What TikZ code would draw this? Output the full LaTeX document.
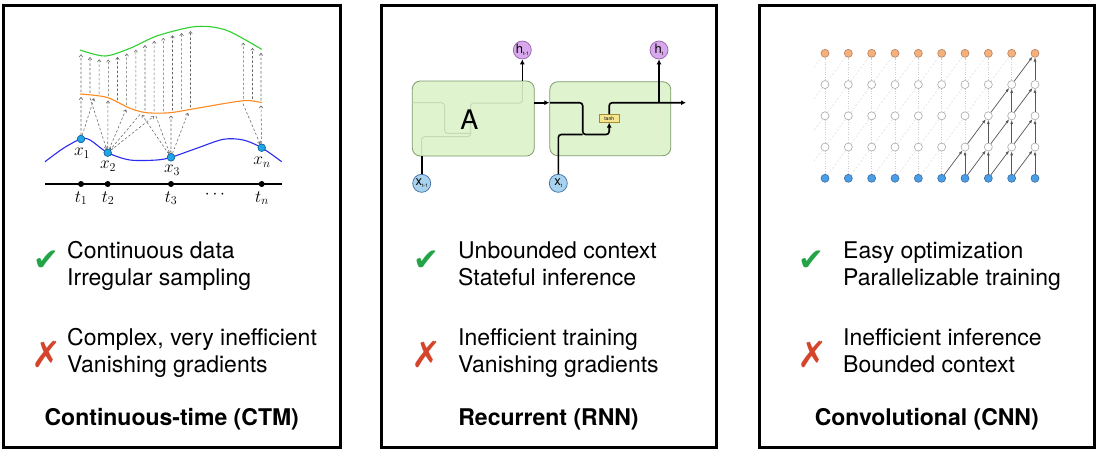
\documentclass[tikz,border=0pt]{standalone}
\usepackage[no-math]{fontspec}
\setmainfont{TeX Gyre Heros}
\newfontfamily\symfont{DejaVu Sans}
\usetikzlibrary{arrows.meta,intersections,calc}
\definecolor{chk}{HTML}{22A447}
\definecolor{crs}{HTML}{D4452C}
\definecolor{bcurve}{HTML}{2B2BF0}
\definecolor{ocurve}{HTML}{FF8A1F}
\definecolor{gcurve}{HTML}{2FCF2F}
\definecolor{dotfill}{HTML}{1FA6E6}
\definecolor{dotdraw}{HTML}{155E9A}
\definecolor{cellfill}{HTML}{DFF3CE}
\definecolor{celldraw}{HTML}{7E9B6E}
\definecolor{ghost}{HTML}{C4D9B4}
\definecolor{xfill}{HTML}{A8D2EE}
\definecolor{xdraw}{HTML}{3B6DA0}
\definecolor{hfill}{HTML}{D8A8EC}
\definecolor{hdraw}{HTML}{9660AE}
\definecolor{tfill}{HTML}{F6E690}
\definecolor{tdraw}{HTML}{A38C35}
\definecolor{ofill}{HTML}{F7B07A}
\definecolor{odraw}{HTML}{B08264}
\definecolor{bfill}{HTML}{4A9EE8}
\definecolor{bdraw}{HTML}{3A6CA0}
\definecolor{mdraw}{HTML}{A8A8A8}
\begin{document}
\begin{tikzpicture}[x=1pt,y=-1pt,
  panel/.style={draw=black,line width=3pt},
  item/.style={anchor=base west,inner sep=0pt,font=\fontsize{23}{23}\selectfont},
  ttl/.style={anchor=base,inner sep=0pt,font=\fontsize{23}{23}\selectfont\bfseries},
  chkmark/.style={inner sep=0pt,text=chk,font=\symfont\fontsize{31}{31}\selectfont},
  crsmark/.style={inner sep=0pt,text=crs,font=\symfont\fontsize{36}{36}\selectfont},
  dsh/.style={draw=black!60,dash pattern=on 2.5pt off 2pt,line width=0.55pt,-{To[length=2.8pt,width=4pt]}},
  datapt/.style={circle,fill=dotfill,draw=dotdraw,line width=0.5pt,minimum size=7.5pt,inner sep=0pt},
  tpt/.style={circle,fill=black,minimum size=6pt,inner sep=0pt},
  mlab/.style={inner sep=0pt,font=\fontsize{17}{17}\selectfont},
  cell/.style={draw=celldraw,fill=cellfill,rounded corners=8pt,line width=0.8pt,inner sep=0pt},
  wire/.style={draw=black,line width=1.6pt,rounded corners=3pt},
  wtip/.style={-{Latex[length=5pt,width=5pt]}},
  ghostw/.style={draw=ghost,line width=1pt,rounded corners=3pt},
  xnode/.style={circle,fill=xfill,draw=xdraw,line width=0.7pt,minimum size=18pt,inner sep=0pt},
  hnode/.style={circle,fill=hfill,draw=hdraw,line width=0.7pt,minimum size=18pt,inner sep=0pt},
  tanhbox/.style={rectangle,fill=tfill,draw=tdraw,line width=0.5pt,minimum width=19.5pt,minimum height=8pt,inner sep=0pt,font=\fontsize{5}{5}\selectfont},
  gnode/.style={circle,minimum size=8pt,inner sep=0pt,line width=0.6pt},
  midn/.style={gnode,draw=mdraw,fill=white},
  topn/.style={gnode,draw=odraw,fill=ofill},
  botn/.style={gnode,draw=bdraw,fill=bfill},
  fvert/.style={draw=black!20,dash pattern=on 1pt off 1.5pt,line width=0.5pt},
  fdiag/.style={draw=black!13,dash pattern=on 2pt off 2pt,line width=0.5pt},
  carrow/.style={draw=black!65,line width=0.7pt,-{Latex[length=4pt,width=3pt]}}
]
\useasboundingbox (0,0) rectangle (1101,456);
\fill[white] (0,0) rectangle (1101,456);

% panels
\draw[panel] (3.5,5) rectangle (340,447.5);
\draw[panel] (381,5) rectangle (716,447.5);
\draw[panel] (759,5) rectangle (1094.5,447.5);

% ================= CTM =================
\draw[gcurve,line width=1.1pt,name path=grn] plot[smooth] coordinates {(80,50) (105,56) (130,48.3) (156.7,36) (190,27.3) (210,26.7) (230,31.7) (261.7,49.3)};
\draw[ocurve,line width=1.1pt,name path=org] plot[smooth] coordinates {(80,94) (106.7,97.3) (130,108.3) (146.7,112.7) (170,112.7) (196.7,108.3) (243.3,100.7) (261.7,102.7)};
\draw[bcurve,line width=1.1pt] plot[smooth] coordinates {(45,161.7) (63.3,148.3) (80.7,139) (90,140) (107.7,152.7) (130,160) (156.7,160) (171,157.3) (196.7,148.3) (223.3,139.3) (243.3,140) (261.7,147.7) (281.7,161.7)};

\foreach \xx in {81,90,99.2,108.3,117.5,126.7,135.8,145,154.2,163.3,172.5,181.6,190.5,243.3,252.5,261}{
  \path[name path=vl] (\xx,0) -- (\xx,220);
  \path[name intersections={of=org and vl,by=oo}];
  \path[name intersections={of=grn and vl,by=gg}];
  \draw[dsh] ($(oo)+(0,-2)$) -- ($(gg)+(0,4)$);
}

\node[datapt] (x1) at (81,139) {};
\node[datapt] (x2) at (107.7,152.7) {};
\node[datapt] (x3) at (171,157.3) {};
\node[datapt] (xn) at (261.7,147.7) {};

\foreach \s/\tx/\rv in {x1/81/0,x1/94/0,x2/90/1,x2/108/0,x2/126/0,x2/140/1,x2/154/0,x3/142/0,x3/156/1,x3/171/0,x3/188/0,xn/243/1,xn/261/0}{
  \path[name path=vl] (\tx,0) -- (\tx,220);
  \path[name intersections={of=org and vl,by=oo}];
  \ifnum\rv=0
    \draw[dsh] (\s) -- ($(oo)+(0,3)$);
  \else
    \draw[dsh] ($(oo)+(0,3)$) -- (\s);
  \fi
}
\node[datapt] at (x1) {};
\node[datapt] at (x2) {};
\node[datapt] at (x3) {};
\node[datapt] at (xn) {};

\node[mlab] (lx1) at (82,153) {$x_1$};
\node[mlab] (lx2) at (108,166.5) {$x_2$};
\node[mlab] (lx3) at (172,170) {$x_3$};
\node[mlab] (lxn) at (262,162) {$x_n$};

\coordinate (axl) at (45,184);
\coordinate (axr) at (282,184);
\draw[line width=1.2pt] (axl) -- (axr);
\node[tpt] (t1) at (81,184) {};
\node[tpt] (t2) at (107.7,184) {};
\node[tpt] (t3) at (171,184) {};
\node[tpt] (tn) at (261.7,184) {};
\node[mlab] (lt1) at (81,198) {$t_1$};
\node[mlab] (lt2) at (108,198) {$t_2$};
\node[mlab] (lt3) at (171,198) {$t_3$};
\node[mlab] (ldots) at (215,195) {$\cdots$};
\node[mlab] (ltn) at (262,198) {$t_n$};

% ================= RNN =================
\node[cell,minimum width=122pt,minimum height=75pt] (A) at (473.3,118.5) {};
\node[cell,minimum width=121pt,minimum height=74pt] (B) at (610.3,118.7) {};
\draw[ghostw] (412.5,102.7) -- (444.5,102.7) -- (444.5,133.3) -- (471,133.3);
\draw[ghostw] (421.7,156) -- (421.7,136.7) -- (470.5,136.7) -- (470.5,103.2) -- (522.3,103.2) -- (522.3,81.5);
\node[inner sep=0pt,font=\fontsize{27}{27}\selectfont] (Alab) at (469.3,120) {A};

\node[xnode] (xtm1) at (421.7,183.3) {\fontsize{13}{13}\selectfont x\raisebox{-1.5pt}{\fontsize{5}{5}\selectfont t-1}};
\node[hnode] (htm1) at (522.3,50) {\fontsize{13}{13}\selectfont h\raisebox{-1.5pt}{\fontsize{5}{5}\selectfont t-1}};
\node[xnode] (xt) at (558.3,183.3) {\fontsize{13}{13}\selectfont x\raisebox{-1.5pt}{\fontsize{5}{5}\selectfont t}};
\node[hnode] (ht) at (659,50) {\fontsize{13}{13}\selectfont h\raisebox{-1.5pt}{\fontsize{5}{5}\selectfont t}};
\node[tanhbox] (tanh) at (609.2,118.3) {tanh};

\draw[wire] (xtm1.north) -- (xtm1.north |- A.south);
\draw[wire,wtip] (A.north -| htm1) -- (htm1.south);
\coordinate (aout) at (534.3,102.7);
\draw[wire,wtip] (aout) -- (aout -| B.west);
\coordinate (bin) at (550,102.7);
\coordinate (c1) at (582.7,102.7);
\coordinate (c2) at (582.7,134.5);
\coordinate (c3) at (609.2,134.5);
\draw[wire,wtip] (bin) -- (c1) -- (c2) -- (c3) -- (tanh.south);
\draw[wire] (xt.north) -- (xt.north |- c2) -- (c2);
\coordinate (c4) at (609.2,102.7);
\coordinate (bout) at (686,102.7);
\draw[wire,wtip] (tanh.north) -- (c4) -- (bout);
\coordinate (br) at (659,102.7);
\draw[wire,wtip] (br) -- (ht.south);

% ================= CNN =================
\foreach \c in {0,...,9}{
  \foreach \r in {1,2,3}{
    \node[midn] (n-\c-\r) at ({825+23.333*\c},{178.3-31.25*\r}) {};
  }
  \node[botn] (n-\c-0) at ({825+23.333*\c},178.3) {};
  \node[topn] (n-\c-4) at ({825+23.333*\c},53.3) {};
}
\foreach \c in {0,...,9}{
  \foreach \r/\rr in {0/1,1/2,2/3,3/4}{
    \draw[fvert] (n-\c-\r) -- (n-\c-\rr);
  }
}
\foreach \c/\cp in {1/0,2/1,3/2,4/3,5/4,6/5,7/6,8/7,9/8}{
  \foreach \r/\rr in {0/1,1/2,2/3,3/4}{
    \draw[fdiag] (n-\cp-\r) -- (n-\c-\rr);
  }
}
\foreach \rr in {1,2,3,4}{
  \coordinate (lf-\rr) at (814,{178.3-31.25*\rr+14});
  \draw[fdiag] (lf-\rr) -- (n-0-\rr);
}
\foreach \t/\tp/\cs in {1/0/6,2/1/7,3/2/8,4/3/9}{
  \foreach \c in {\cs,...,9}{
    \pgfmathtruncatemacro\cp{\c-1}
    \draw[carrow] (n-\c-\tp) -- (n-\c-\t);
    \draw[carrow] (n-\cp-\tp) -- (n-\c-\t);
  }
}

% ================= texts =================
\node[chkmark] (ck1) at (46,261) {✔};
\node[item] (p1a) at (67,258.3) {Continuous data};
\node[item] (p1b) at (67,285.7) {Irregular sampling};
\node[crsmark] (cr1) at (47,354) {✗};
\node[item] (p1c) at (67,345) {Complex, very inefficient};
\node[item] (p1d) at (67,372.3) {Vanishing gradients};
\node[ttl] (t1t) at (171.75,425.7) {Continuous-time (CTM)};

\node[chkmark] (ck2) at (426,261) {✔};
\node[item] (p2a) at (458,258.3) {Unbounded context};
\node[item] (p2b) at (458,285.7) {Stateful inference};
\node[crsmark] (cr2) at (427,354) {✗};
\node[item] (p2c) at (458,345) {Inefficient training};
\node[item] (p2d) at (458,372.3) {Vanishing gradients};
\node[ttl] (t2t) at (548.5,425.7) {Recurrent (RNN)};

\node[chkmark] (ck3) at (811,261) {✔};
\node[item] (p3a) at (843,258.3) {Easy optimization};
\node[item] (p3b) at (843,285.7) {Parallelizable training};
\node[crsmark] (cr3) at (813,354) {✗};
\node[item] (p3c) at (843,345) {Inefficient inference};
\node[item] (p3d) at (843,372.3) {Bounded context};
\node[ttl] (t3t) at (926.75,425.7) {Convolutional (CNN)};
\end{tikzpicture}
\end{document}
